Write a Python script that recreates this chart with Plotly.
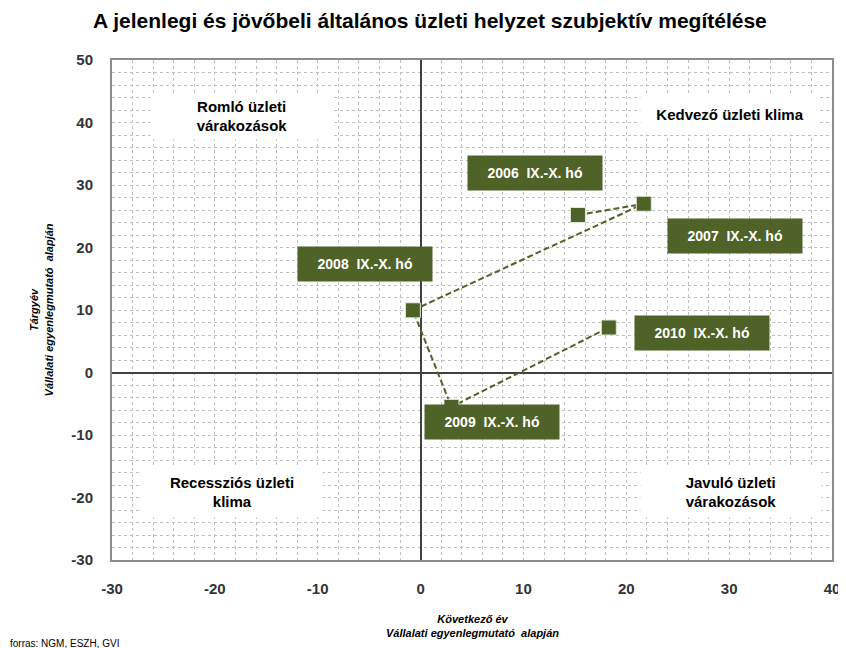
import plotly.graph_objects as go

# Data
periods = ["2006  IX.-X. hó", "2007  IX.-X. hó", "2008  IX.-X. hó", "2009  IX.-X. hó", "2010  IX.-X. hó"]
next_year = [15.3, 21.7, -0.75, 3.0, 18.3]      # Következő év
current_year = [25.2, 27.0, 9.95, -5.5, 7.2]    # Tárgyév

# label box positions (data coords)
label_x = [11.1, 30.55, -5.4, 6.9, 27.35]
label_y = [32.0, 21.8, 17.3, -7.9, 6.3]

quadrant_texts = ["Romló üzleti<br>várakozások", "Kedvező üzleti klima",
                  "Recessziós üzleti<br>klima", "Javuló üzleti<br>várakozások"]
quadrant_x = [-17.4, 30.1, -18.3, 30.2]
quadrant_y = [41.0, 41.4, -19.1, -19.1]
quadrant_w = [182, 178, 180, 180]
quadrant_h = [46, 40, 50, 50]

x_ticks = [-30, -20, -10, 0, 10, 20, 30, 40]
x_ticktext = ["-30", "-20", "-10", "0", "10", "20", "30", "40"]
y_ticks = [-30, -20, -10, 0, 10, 20, 30, 40, 50]
y_ticktext = ["-30", "-20", "-10", "0", "10", "20", "30", "40", "50"]

GREEN = "#4F6228"
FONT = "Arial, Liberation Sans, sans-serif"

fig = go.Figure()
fig.add_trace(go.Scatter(
    x=next_year, y=current_year, mode="lines+markers",
    line=dict(color=GREEN, width=2, dash="6px,3px"),
    marker=dict(symbol="square", size=15, color=GREEN, line=dict(color="#e4e8d8", width=1)),
    showlegend=False, hoverinfo="skip"))

annotations = []
for t, x, y, w, h in zip(quadrant_texts, quadrant_x, quadrant_y, quadrant_w, quadrant_h):
    annotations.append(dict(x=x, y=y, xref="x", yref="y", text=t, showarrow=False,
                            xanchor="center", yanchor="middle",
                            bgcolor="white", width=w, height=h, borderpad=0,
                            font=dict(family=FONT, size=15, color="black", weight="bold")))
for t, x, y in zip(periods, label_x, label_y):
    annotations.append(dict(x=x, y=y, xref="x", yref="y", text=t.replace("  ", "\u00a0\u00a0"),
                            showarrow=False, xanchor="center", yanchor="middle",
                            bgcolor=GREEN, width=134, height=34, borderpad=0,
                            font=dict(family=FONT, size=14, color="white", weight="bold")))

annotations.append(dict(x=0.442, y=1.079, xref="paper", yref="paper", showarrow=False,
                        xanchor="center", yanchor="middle",
                        text="A jelenlegi és jövőbeli általános üzleti helyzet szubjektív megítélése",
                        font=dict(family=FONT, size=21, color="black", weight="bold")))
annotations.append(dict(x=0.50, y=-0.132, xref="paper", yref="paper", showarrow=False,
                        xanchor="center", yanchor="middle",
                        text="<i>Következő év<br>Vállalati egyenlegmutató  alapján</i>",
                        font=dict(family=FONT, size=11, color="black", weight="bold")))
annotations.append(dict(x=-0.098, y=0.5, xref="paper", yref="paper", showarrow=False, textangle=-90,
                        xanchor="center", yanchor="middle",
                        text="<i>Tárgyév<br>Vállalati egyenlegmutató  alapján</i>",
                        font=dict(family=FONT, size=11, color="black", weight="bold")))
annotations.append(dict(x=-0.144, y=-0.166, xref="paper", yref="paper", showarrow=False,
                        xanchor="left", yanchor="middle", text="forras: NGM, ESZH, GVI",
                        font=dict(family=FONT, size=10, color="black")))

axis_common = dict(
    showgrid=True, gridcolor="#bfbfbf", gridwidth=1, griddash="dot",
    minor=dict(dtick=2, showgrid=True, gridcolor="#bfbfbf", gridwidth=1, griddash="dot"),
    zeroline=True, zerolinecolor="#404040", zerolinewidth=2,
    showline=True, mirror=True, linecolor="#8c8c8c", linewidth=2,
    tickfont=dict(family=FONT, size=15, color="#333333", weight="bold"),
    ticks="", automargin=False,
)

# the page body adds an 8px offset, so the figure is 8px smaller and margins compensate
fig.update_layout(
    width=838, height=640,
    margin=dict(l=104, r=14, t=52, b=88, autoexpand=False),
    paper_bgcolor="white", plot_bgcolor="white",
    xaxis=dict(range=[-30, 40], tickvals=x_ticks, ticktext=x_ticktext, ticklabelstandoff=14, **axis_common),
    yaxis=dict(range=[-30, 50], tickvals=y_ticks, ticktext=y_ticktext, ticklabelstandoff=14, **axis_common),
    annotations=annotations,
)

fig.write_html("out.html")
